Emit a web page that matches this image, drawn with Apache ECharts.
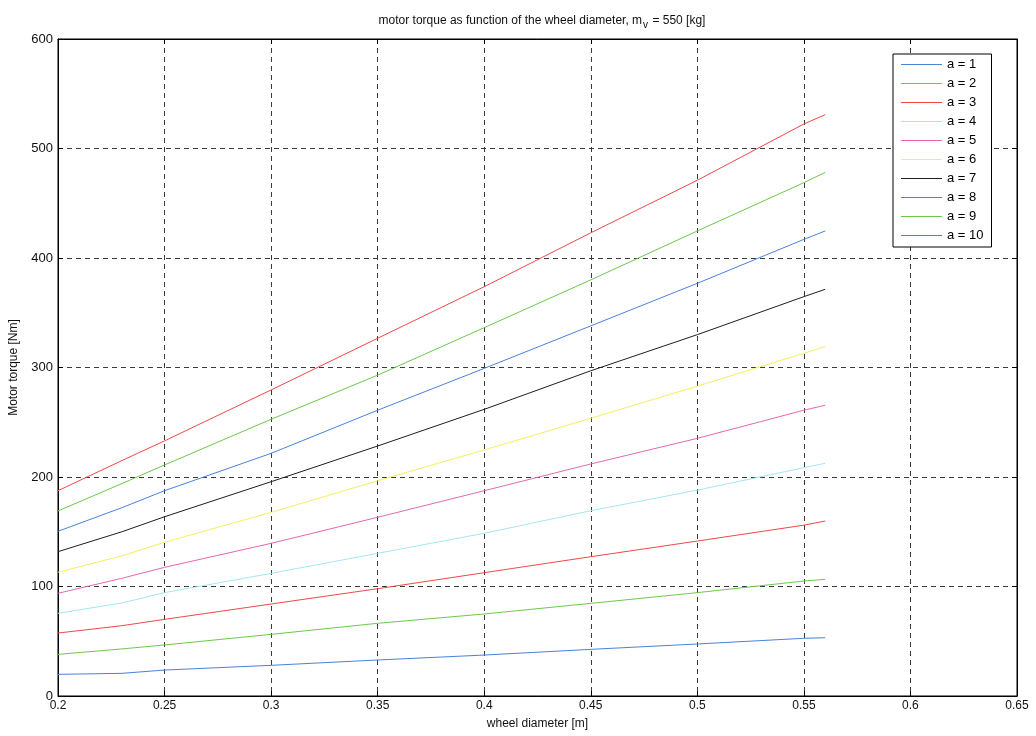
<!DOCTYPE html>
<html>
<head>
<meta charset="utf-8">
<script src="https://cdn.jsdelivr.net/npm/echarts@6/dist/echarts.min.js"></script>
<style>
  html, body { margin: 0; padding: 0; background: #ffffff; }
  #chart { width: 1036px; height: 736px; }
</style>
</head>
<body>
<div id="chart"></div>
<script>
// Wheel diameters [m] at which the torque is sampled
const diameters = [0.2, 0.23, 0.25, 0.3, 0.35, 0.4, 0.45, 0.5, 0.55, 0.56];

// Motor torque [Nm] for each acceleration a
const torqueA1  = [19.8, 20.7, 23.7, 28.0, 32.9, 37.4, 42.6, 47.5, 52.7, 53.2];
const torqueA2  = [38.0, 43.0, 46.6, 56.3, 66.4, 74.9, 84.6, 94.4, 105.0, 106.5];
const torqueA3  = [57.5, 64.2, 70.0, 84.0, 98.0, 112.6, 127.2, 141.5, 156.0, 159.8];
const torqueA4  = [75.5, 85.0, 94.4, 112.0, 130.3, 148.6, 169.2, 188.0, 208.5, 212.5];
const torqueA5  = [93.8, 107.5, 117.5, 139.4, 163.2, 187.5, 211.9, 235.3, 261.0, 265.5];
const torqueA6  = [113.0, 128.0, 140.4, 167.7, 196.6, 224.7, 253.6, 283.0, 313.0, 319.0];
const torqueA7  = [131.8, 150.0, 163.7, 195.7, 228.3, 261.8, 297.0, 330.0, 364.7, 371.4];
const torqueA8  = [150.4, 172.0, 187.5, 221.6, 261.0, 299.2, 338.0, 376.9, 417.0, 424.7];
const torqueA9  = [169.0, 194.0, 211.0, 252.7, 293.0, 336.4, 380.0, 424.7, 468.8, 478.2];
const torqueA10 = [187.5, 215.0, 233.0, 279.5, 326.7, 373.8, 423.0, 471.0, 522.4, 530.9];

const seriesNames = ['a = 1', 'a = 2', 'a = 3', 'a = 4', 'a = 5',
                     'a = 6', 'a = 7', 'a = 8', 'a = 9', 'a = 10'];
const seriesValues = [torqueA1, torqueA2, torqueA3, torqueA4, torqueA5,
                      torqueA6, torqueA7, torqueA8, torqueA9, torqueA10];

// Axis ranges and tick steps
const xMin = 0.2, xMax = 0.65, xStep = 0.05;
const yMin = 0, yMax = 600, yStep = 100;

// Line colours (b, g, r, c, m, y, k cycle)
const lineColors = ['#4a82dc', '#6cc94e', '#f04848', '#a6e6f2', '#e866b4',
                    '#f6ef5e', '#1e1e1e', '#4a82dc', '#6cc94e', '#f04848'];

const FONT = '"Liberation Sans", Arial, sans-serif';
const gridDash = { color: '#3a3a3a', type: [5, 4], width: 1 };

const chart = echarts.init(document.getElementById('chart'), null, { renderer: 'canvas' });

const series = seriesNames.map((name, i) => ({
  name: name,
  type: 'line',
  xAxisIndex: 0,
  yAxisIndex: 0,
  symbol: 'none',
  smooth: false,
  lineStyle: { width: 1, color: lineColors[i] },
  itemStyle: { color: lineColors[i] },
  data: diameters.map((d, k) => [d, seriesValues[i][k]])
}));

const fmtX = v => String(+v.toFixed(2));

chart.setOption({
  animation: false,
  backgroundColor: '#ffffff',
  title: {
    text: '{t|motor torque as function of the wheel diameter, m}{s|v}{t| = 550 [kg]}',
    left: 537,
    textAlign: 'center',
    top: 8,
    textStyle: {
      fontWeight: 'normal',
      rich: {
        t: { fontFamily: FONT, fontSize: 12, fontWeight: 'normal', color: '#111111', lineHeight: 16 },
        s: { fontFamily: FONT, fontSize: 10, fontWeight: 'normal', color: '#111111', padding: [9, 1, 0, 1], lineHeight: 16 }
      }
    }
  },
  grid: {
    left: 57, right: 19, top: 39, bottom: 40,
    show: true, borderColor: '#000000', borderWidth: 1, backgroundColor: 'transparent'
  },
  legend: {
    orient: 'vertical',
    left: 893,
    top: 54,
    padding: [4, 8, 5, 8],
    icon: 'path://M0,0H40V1H0Z',
    itemWidth: 41,
    itemHeight: 14,
    itemGap: 6,
    backgroundColor: '#ffffff',
    borderColor: '#000000',
    borderWidth: 1,
    textStyle: { fontFamily: FONT, fontSize: 13, color: '#000000' },
    data: seriesNames
  },
  xAxis: [{
    type: 'value',
    min: xMin, max: xMax, interval: xStep,
    name: 'wheel diameter [m]',
    nameLocation: 'middle',
    nameGap: 22,
    nameTextStyle: { fontFamily: FONT, fontSize: 12, color: '#111111' },
    axisLine: { show: true, onZero: false, lineStyle: { color: '#000000', width: 1 } },
    axisTick: { show: true, inside: true, length: 5, lineStyle: { color: '#000000' } },
    axisLabel: { fontFamily: FONT, fontSize: 12, color: '#111111', margin: 4, formatter: fmtX },
    splitLine: { show: true, lineStyle: gridDash }
  }, {
    type: 'value',
    position: 'top',
    min: xMin, max: xMax, interval: xStep,
    axisLine: { show: true, onZero: false, lineStyle: { color: '#000000', width: 1 } },
    axisTick: { show: true, inside: true, length: 5, lineStyle: { color: '#000000' } },
    axisLabel: { show: false },
    splitLine: { show: false }
  }],
  yAxis: [{
    type: 'value',
    min: yMin, max: yMax, interval: yStep,
    name: 'Motor torque [Nm]',
    nameLocation: 'middle',
    nameGap: 38,
    nameRotate: 90,
    nameTextStyle: { fontFamily: FONT, fontSize: 12, color: '#111111' },
    axisLine: { show: true, onZero: false, lineStyle: { color: '#000000', width: 1 } },
    axisTick: { show: true, inside: true, length: 5, lineStyle: { color: '#000000' } },
    axisLabel: { fontFamily: FONT, fontSize: 13, color: '#111111', margin: 5 },
    splitLine: { show: true, lineStyle: gridDash }
  }, {
    type: 'value',
    position: 'right',
    min: yMin, max: yMax, interval: yStep,
    axisLine: { show: true, onZero: false, lineStyle: { color: '#000000', width: 1 } },
    axisTick: { show: true, inside: true, length: 5, lineStyle: { color: '#000000' } },
    axisLabel: { show: false },
    splitLine: { show: false }
  }],
  series: series
});
</script>
</body>
</html>
